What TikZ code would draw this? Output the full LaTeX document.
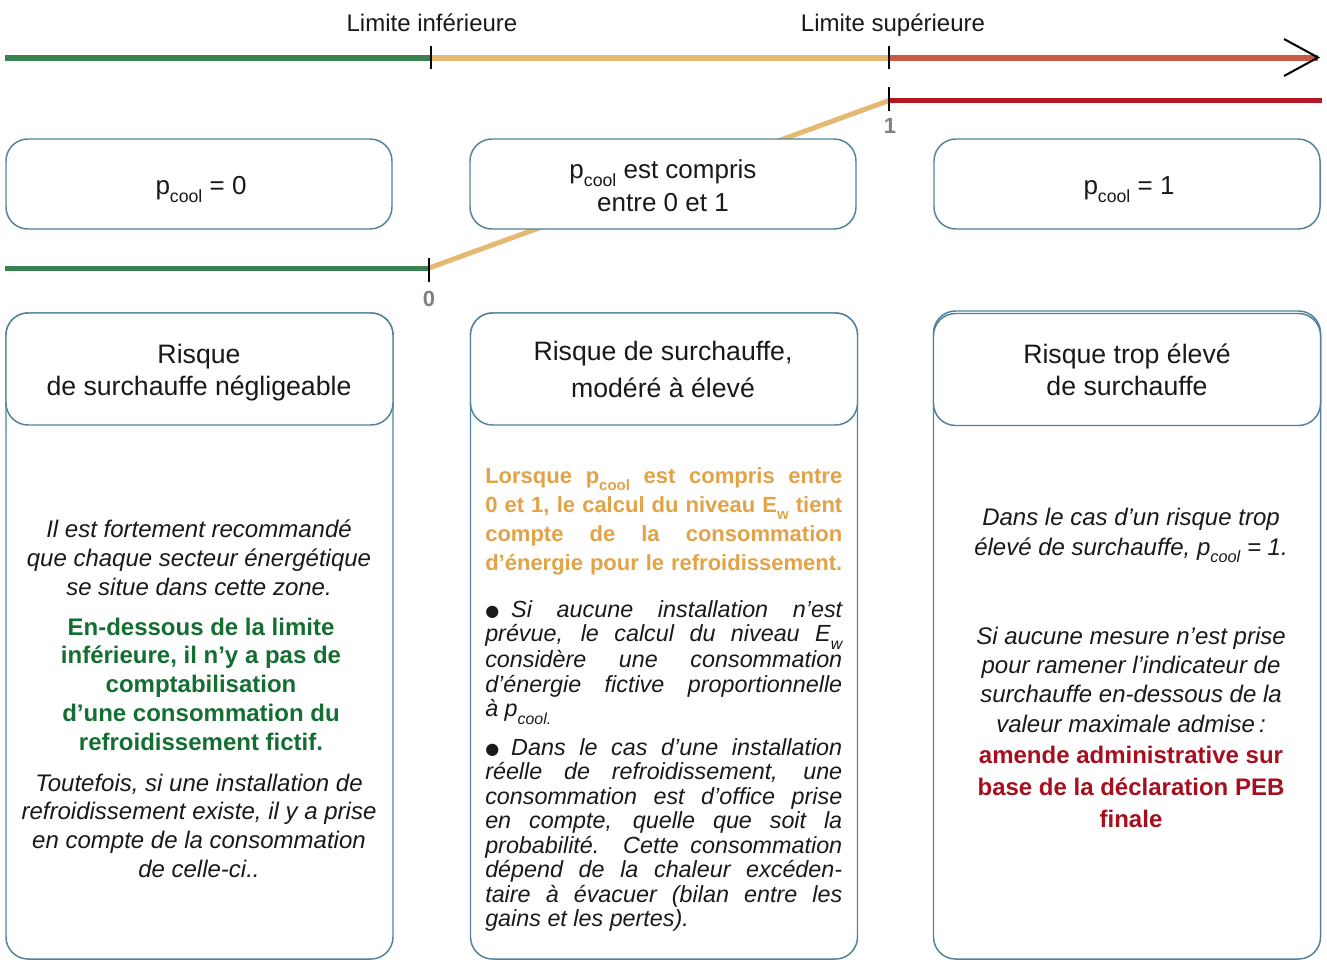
\documentclass[tikz,border=0pt]{standalone}
\usepackage{fontspec}
\setmainfont{Liberation Sans}
\newfontfamily\dejavu{DejaVu Sans}
\definecolor{axgreen}{RGB}{56,130,80}
\definecolor{axorange}{RGB}{230,185,115}
\definecolor{axred}{RGB}{200,90,65}
\definecolor{lowred}{RGB}{180,22,36}
\definecolor{boxblue}{RGB}{80,130,155}
\definecolor{txtgreen}{RGB}{20,110,50}
\definecolor{txtorange}{RGB}{226,162,72}
\definecolor{txtred}{RGB}{165,15,30}
\definecolor{digitgray}{RGB}{128,128,128}
\definecolor{txtblack}{RGB}{25,25,25}
\makeatletter
\newcommand\lowtxt[1]{\raisebox{-0.32em}{\fontsize{\the\dimexpr0.68\dimexpr\f@size pt\relax\relax}{0pt}\selectfont #1}}
\makeatother
\newlength\jw \setlength\jw{267.75pt}
\newcommand\jl[1]{\makebox[\jw][s]{#1}}
\newcommand\blt{{\fontsize{12pt}{12pt}\selectfont\dejavu\raisebox{0.5pt}{●}}\hspace{9pt}}
\begin{document}
\begin{tikzpicture}[x=0.75pt,y=-0.75pt,
  boxline/.style={draw=boxblue,line width=1.1pt,rounded corners=16.5pt},
  smallbox/.style={boxline,fill=white,minimum width=289.5pt,minimum height=67.5pt,inner sep=0pt},
  bigbox/.style={boxline,minimum width=290.25pt,inner sep=0pt},
  headbox/.style={boxline,fill=white,minimum width=290.25pt,minimum height=84pt,inner sep=0pt},
  ticks/.style={black,line width=1.5pt},
  axis/.style={line width=4.5pt},
  lowline/.style={line width=3.75pt},
  txt/.style={anchor=base,inner sep=0pt,text=txtblack},
  jtxt/.style={anchor=base west,inner sep=0pt,text=txtblack},
  digit/.style={anchor=base,inner sep=0pt,text=digitgray,font=\fontsize{16.5pt}{16.5pt}\selectfont\bfseries}
]
\useasboundingbox (0,0) rectangle (1327,961);

% top axis
\coordinate (a0) at (5,57.5);
\coordinate (a1) at (431,57.5);
\coordinate (a2) at (889,57.5);
\coordinate (a3) at (1318,57.5);
\coordinate (h1) at (1284,39);
\coordinate (h2) at (1284,76);
\draw[axis,axgreen] (a0) -- (a1);
\draw[axis,axorange] (a1) -- (a2);
\draw[axis,axred] (a2) -- (a3);
\draw[black,line width=1.5pt] (h1) -- (a3) -- (h2);
\draw[ticks] (431,46) -- (431,69);
\draw[ticks] (889,46) -- (889,69);
\node[txt,font=\fontsize{18pt}{18pt}\selectfont] (lim1) at (432,31) {Limite inférieure};
\node[txt,font=\fontsize{18pt}{18pt}\selectfont] (lim2) at (893,31) {Limite supérieure};

% lower p_cool line
\coordinate (p0) at (5,268);
\coordinate (p1) at (429,268);
\coordinate (p2) at (889,100.5);
\coordinate (p3) at (1322,100.5);
\draw[lowline,axorange] (p1) -- (p2);
\draw[lowline,axgreen] (p0) -- (p1);
\draw[lowline,lowred] (p2) -- (p3);
\draw[ticks] (889,87) -- (889,111);
\draw[ticks] (429,258) -- (429,282);
\node[digit] (d1) at (890,133) {1};
\node[digit] (d0) at (429,306) {0};

% small boxes
\node[smallbox] (b1) at (199,184) {};
\node[smallbox] (b2) at (663,184) {};
\node[smallbox] (b3) at (1127,184) {};
\node[txt,font=\fontsize{19.5pt}{24.75pt}\selectfont] (t1) at (201,194) {p\lowtxt{cool} = 0};
\node[txt] (t2) at (663,178) {\parbox[t]{285pt}{\centering\fontsize{19.5pt}{24.75pt}\selectfont p\lowtxt{cool} est compris\\entre 0 et 1}};
\node[txt,font=\fontsize{19.5pt}{24.75pt}\selectfont] (t3) at (1129,194) {p\lowtxt{cool} = 1};

% big boxes
\node[bigbox,minimum height=484.5pt] (c1) at (199.5,636) {};
\node[headbox] (h1b) at (199.5,369) {};
\node[bigbox,minimum height=484.5pt] (c2) at (664,636) {};
\node[headbox] (h2b) at (664,369) {};
\node[bigbox,minimum height=486pt] (c3) at (1127,635) {};
\node[headbox] (h3b) at (1127,369.5) {};

% headers
\node[txt] (ht1) at (199,363) {\parbox[t]{285pt}{\centering\fontsize{20pt}{24pt}\selectfont Risque\\de surchauffe négligeable}};
\node[txt] (ht2) at (663,360) {\parbox[t]{285pt}{\centering\fontsize{20pt}{27.75pt}\selectfont Risque de surchauffe,\\modéré à élevé}};
\node[txt] (ht3) at (1127,363) {\parbox[t]{285pt}{\centering\fontsize{20pt}{24pt}\selectfont Risque trop élevé\\de surchauffe}};

% column 1
\node[txt] (c1a) at (199,537) {\parbox[t]{285pt}{\centering\fontsize{18pt}{21.75pt}\selectfont\itshape Il est fortement recommandé\\que chaque secteur énergétique\\se situe dans cette zone.}};
\node[txt,text=txtgreen] (c1b) at (201,635) {\parbox[t]{285pt}{\centering\fontsize{18pt}{21.6pt}\selectfont\bfseries En-dessous de la limite\\inférieure, il n’y a pas de\\comptabilisation\\d’une consommation du\\refroidissement fictif.}};
\node[txt] (c1c) at (199,791) {\parbox[t]{285pt}{\centering\fontsize{18pt}{21.6pt}\selectfont\itshape Toutefois, si une installation de\\refroidissement existe, il y a prise\\en compte de la consommation\\de celle-ci..}};

% column 2
\node[jtxt,text=txtorange] (c2a) at (485,483) {\parbox[t]{\jw}{\raggedright\fontsize{16.5pt}{21.75pt}\selectfont\bfseries
\jl{Lorsque p\lowtxt{cool} est compris entre}\\
\jl{0 et 1, le calcul du niveau E\lowtxt{w} tient}\\
\jl{compte de la consommation}\\
\jl{d’énergie pour le refroidissement.}}};
\node[jtxt] (c2b) at (485,617) {\parbox[t]{\jw}{\raggedright\fontsize{17.5pt}{18.4pt}\selectfont\itshape
\jl{\blt Si aucune installation n’est}\\
\jl{prévue, le calcul du niveau E\lowtxt{w}}\\
\jl{considère une consommation}\\
\jl{d’énergie fictive proportionnelle}\\
à p\lowtxt{cool.}}};
\node[jtxt] (c2c) at (485,755) {\parbox[t]{\jw}{\raggedright\fontsize{17.5pt}{18.4pt}\selectfont\itshape
\jl{\blt Dans le cas d’une installation}\\
\jl{réelle de refroidissement, une}\\
\jl{consommation est d’office prise}\\
\jl{en compte, quelle que soit la}\\
\jl{probabilité. Cette consommation}\\
\jl{dépend de la chaleur excéden-}\\
\jl{taire à évacuer (bilan entre les}\\
gains et les pertes).}};

% column 3
\node[txt] (c3a) at (1131,525) {\parbox[t]{285pt}{\centering\fontsize{18pt}{22.5pt}\selectfont\itshape Dans le cas d’un risque trop\\élevé de surchauffe, p\lowtxt{cool} = 1.}};
\node[txt] (c3b) at (1131,644) {\parbox[t]{285pt}{\centering\fontsize{18pt}{22pt}\selectfont\itshape Si aucune mesure n’est prise\\pour ramener l’indicateur de\\surchauffe en-dessous de la\\valeur maximale admise\,:}};
\node[txt,text=txtred] (c3c) at (1131,763) {\parbox[t]{285pt}{\centering\fontsize{18pt}{24pt}\selectfont\bfseries amende administrative sur\\base de la déclaration PEB\\finale}};
\end{tikzpicture}
\end{document}
